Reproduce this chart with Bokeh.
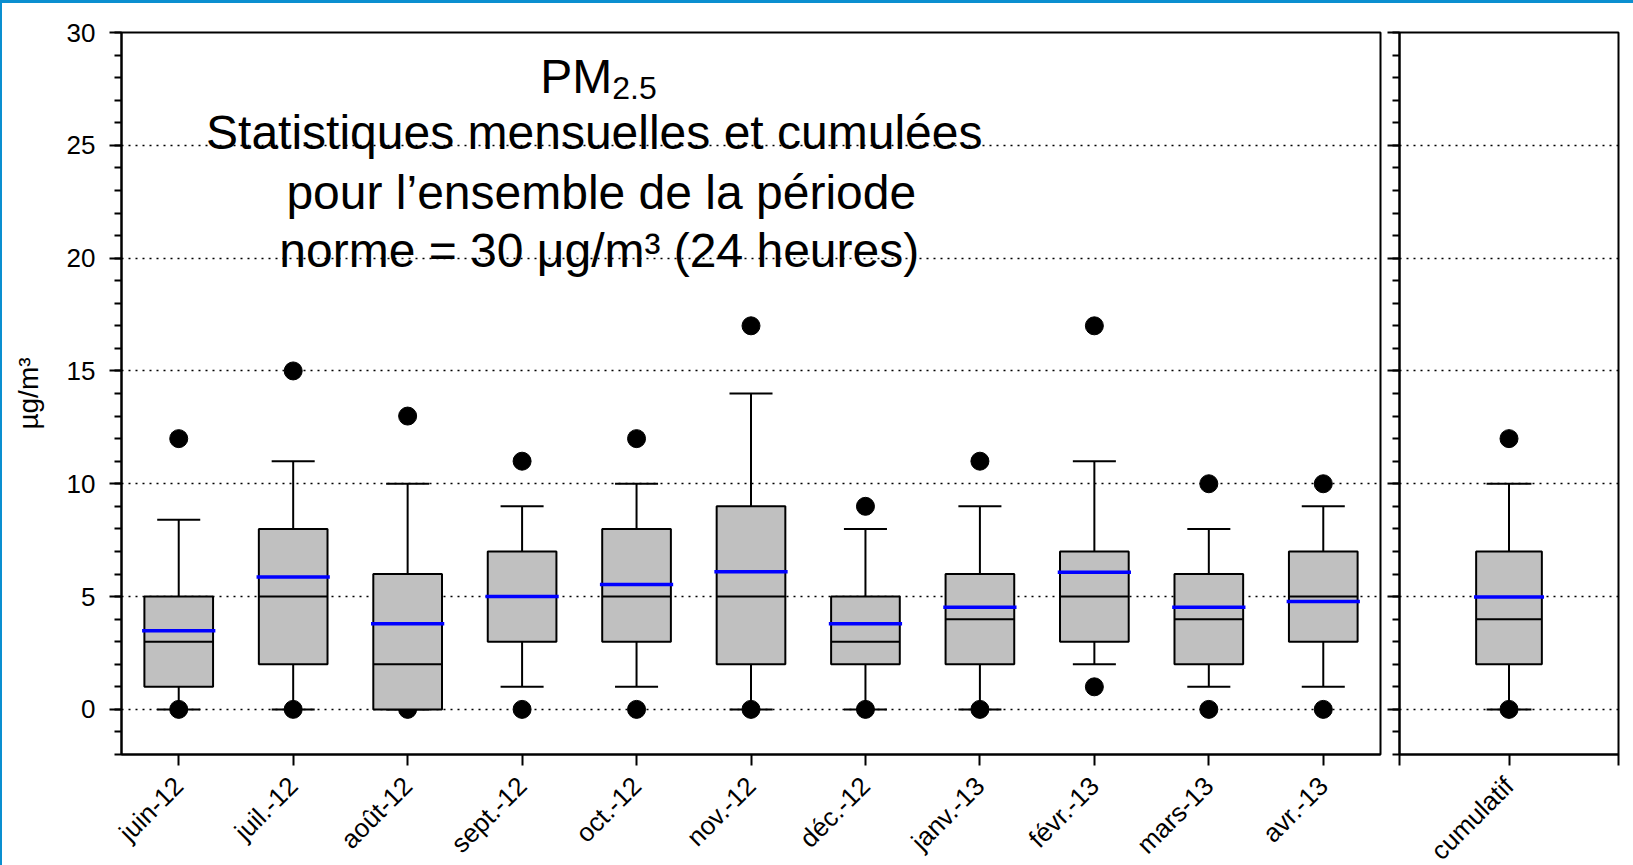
from bokeh.plotting import figure
from bokeh.layouts import row
from bokeh.models import Range1d, FixedTicker, SingleIntervalTicker, Label, CustomLabelingPolicy
from bokeh.embed import file_html
from bokeh.resources import INLINE
from math import pi

# ---------------- data ----------------
months = ["juin-12", "juil.-12", "août-12", "sept.-12", "oct.-12", "nov.-12",
          "déc.-12", "janv.-13", "févr.-13", "mars-13", "avr.-13"]
m_low = [0, 0, 0, 1, 1, 0, 0, 0, 2, 1, 1]          # lower whisker
m_q1 = [1, 2, 0, 3, 3, 2, 2, 2, 3, 2, 3]
m_med = [3, 5, 2, 5, 5, 5, 3, 4, 5, 4, 5]
m_q3 = [5, 8, 6, 7, 8, 9, 5, 6, 7, 6, 7]
m_high = [8.4, 11, 10, 9, 10, 14, 8, 9, 11, 8, 9]  # upper whisker
m_mean = [3.48, 5.87, 3.8, 5.0, 5.54, 6.1, 3.79, 4.53, 6.08, 4.53, 4.78]
m_max = [12, 15, 13, 11, 12, 17, 9, 11, 17, 10, 10]
m_min = [0, 0, 0, 0, 0, 0, 0, 0, 1, 0, 0]

cum_labels = ["cumulatif"]
c_low = [0]
c_q1 = [2]
c_med = [4]
c_q3 = [7]
c_high = [10]
c_mean = [4.98]
c_max = [12]
c_min = [0]

y_ticks_grid = [0, 5, 10, 15, 20, 25]

# ---------------- styling / layout ----------------
FONT = "Liberation Sans"
BOX_FILL = "#C0C0C0"
MEAN_COLOR = "#0000FF"
FRAME_BLUE = "#0A8FD0"
BL, BT = 2, 3            # blue page border (left, top)

FR_L, FR_W = 121, 1257
FR_T, FR_H = 32, 719
XR = (-0.5, len(months) - 0.5)
YR = (-2, 30)
TXT_SHIFT = 16           # baseline correction for labels


def dx(px):  # page x -> data x (left panel)
    return XR[0] + (px - FR_L) / FR_W * (XR[1] - XR[0])


def dy(py):  # page y -> data y
    return YR[1] - (py - TXT_SHIFT - FR_T) / FR_H * (YR[1] - YR[0])


def style_common(p):
    p.outline_line_color = "black"
    p.outline_line_width = 2
    p.outline_line_alpha = 1
    p.background_fill_color = "white"
    p.border_fill_color = "white"
    p.xgrid.visible = False
    p.ygrid.ticker = FixedTicker(ticks=y_ticks_grid)
    p.ygrid.grid_line_color = "black"
    p.ygrid.grid_line_width = 1.6
    p.ygrid.grid_line_dash = "2 5"
    for ax in (p.xaxis[0], p.yaxis[0]):
        ax.axis_line_color = "black"
        ax.axis_line_width = 2
        ax.major_tick_line_color = "black"
        ax.major_tick_line_width = 2
        ax.minor_tick_line_color = "black"
        ax.minor_tick_line_width = 2
        ax.major_tick_in = 0
        ax.minor_tick_in = 0
        ax.major_label_text_font = FONT
        ax.major_label_text_color = "black"
        ax.major_label_text_font_size = "26px"
    yax = p.yaxis[0]
    yax.ticker = SingleIntervalTicker(interval=5, num_minor_ticks=5)
    yax.major_tick_out = 12
    yax.minor_tick_out = 7
    xax = p.xaxis[0]
    xax.major_tick_out = 11
    xax.minor_tick_out = 0
    xax.major_label_orientation = pi / 4
    xax.major_label_standoff = 16


def draw_boxes(p, xs, low, q1, med, q3, high, mean, vmin, vmax, box_w, cap_w):
    half = box_w / 2
    ch = cap_w / 2
    # whiskers
    p.segment(xs, q3, xs, high, line_color="black", line_width=2)
    p.segment(xs, q1, xs, low, line_color="black", line_width=2)
    # caps
    p.segment([x - ch for x in xs], high, [x + ch for x in xs], high, line_color="black", line_width=2)
    p.segment([x - ch for x in xs], low, [x + ch for x in xs], low, line_color="black", line_width=2)
    # extremes
    p.scatter(xs, vmax, size=18, marker="circle", fill_color="black", line_color="black")
    p.scatter(xs, vmin, size=18, marker="circle", fill_color="black", line_color="black")
    # boxes
    p.vbar(x=xs, width=box_w, bottom=q1, top=q3, fill_color=BOX_FILL,
           line_color="black", line_width=2)
    # medians
    p.segment([x - half for x in xs], med, [x + half for x in xs], med,
              line_color="black", line_width=2)
    # means
    mh = half + 0.02
    p.segment([x - mh for x in xs], mean, [x + mh for x in xs], mean,
              line_color=MEAN_COLOR, line_width=3.5)


# ---------------- left panel ----------------
p1 = figure(frame_width=FR_W, frame_height=FR_H,
            min_border_left=FR_L - BL, min_border_right=7,
            min_border_top=FR_T - BT, min_border_bottom=100,
            x_range=Range1d(*XR), y_range=Range1d(*YR),
            output_backend="svg", toolbar_location=None)
style_common(p1)
xs1 = list(range(len(months)))
p1.xaxis[0].ticker = FixedTicker(ticks=xs1)
p1.xaxis[0].major_label_overrides = {i: m for i, m in enumerate(months)}
p1.yaxis[0].axis_label = "µg/m³"
p1.yaxis[0].axis_label_text_font = FONT
p1.yaxis[0].axis_label_text_font_size = "28px"
p1.yaxis[0].axis_label_text_font_style = "normal"
p1.yaxis[0].axis_label_text_color = "black"
p1.yaxis[0].axis_label_standoff = 20
p1.yaxis[0].major_label_standoff = 14

draw_boxes(p1, xs1, m_low, m_q1, m_med, m_q3, m_high, m_mean, m_min, m_max,
           box_w=0.6, cap_w=0.376)

# title block
title_font = "48px"
p1.add_layout(Label(x=dx(611), y=dy(92), text="PM", text_align="right",
                    text_baseline="alphabetic", text_font=FONT,
                    text_font_size=title_font, text_color="black"))
p1.add_layout(Label(x=dx(611), y=dy(103), text="2.5", text_align="left",
                    text_baseline="alphabetic", text_font=FONT,
                    text_font_size="32px", text_color="black"))
for txt, cx, by in [("Statistiques mensuelles et cumulées", 593, 148),
                    ("pour l’ensemble de la période", 600, 207),
                    ("norme = 30 μg/m³ (24 heures)", 598, 265)]:
    p1.add_layout(Label(x=dx(cx), y=dy(by), text=txt, text_align="center",
                        text_baseline="alphabetic", text_font=FONT,
                        text_font_size=title_font, text_color="black"))

# ---------------- right panel ----------------
p2 = figure(frame_width=219, frame_height=FR_H,
            min_border_left=14, min_border_right=15,
            min_border_top=FR_T - BT, min_border_bottom=100,
            x_range=Range1d(0, 2), y_range=p1.y_range,
            output_backend="svg", toolbar_location=None)
style_common(p2)
xs2 = [1 + i for i in range(len(cum_labels))]
p2.xaxis[0].ticker = FixedTicker(ticks=xs2, minor_ticks=[0, 2])
p2.xaxis[0].minor_tick_out = 11
p2.xaxis[0].major_label_overrides = {x: l for x, l in zip(xs2, cum_labels)}
p2.yaxis[0].major_label_text_font_size = "0px"
p2.yaxis[0].major_label_standoff = 0
p2.yaxis[0].major_label_policy = CustomLabelingPolicy(code="")

draw_boxes(p2, xs2, c_low, c_q1, c_med, c_q3, c_high, c_mean, c_min, c_max,
           box_w=0.6, cap_w=0.41)

border_top = f"{BT}px solid {FRAME_BLUE}"
p1.styles = {"border-top": border_top, "border-left": f"{BL}px solid {FRAME_BLUE}"}
p2.styles = {"border-top": border_top}
layout = row(p1, p2)
open("out.html", "w").write(file_html(layout, INLINE))
